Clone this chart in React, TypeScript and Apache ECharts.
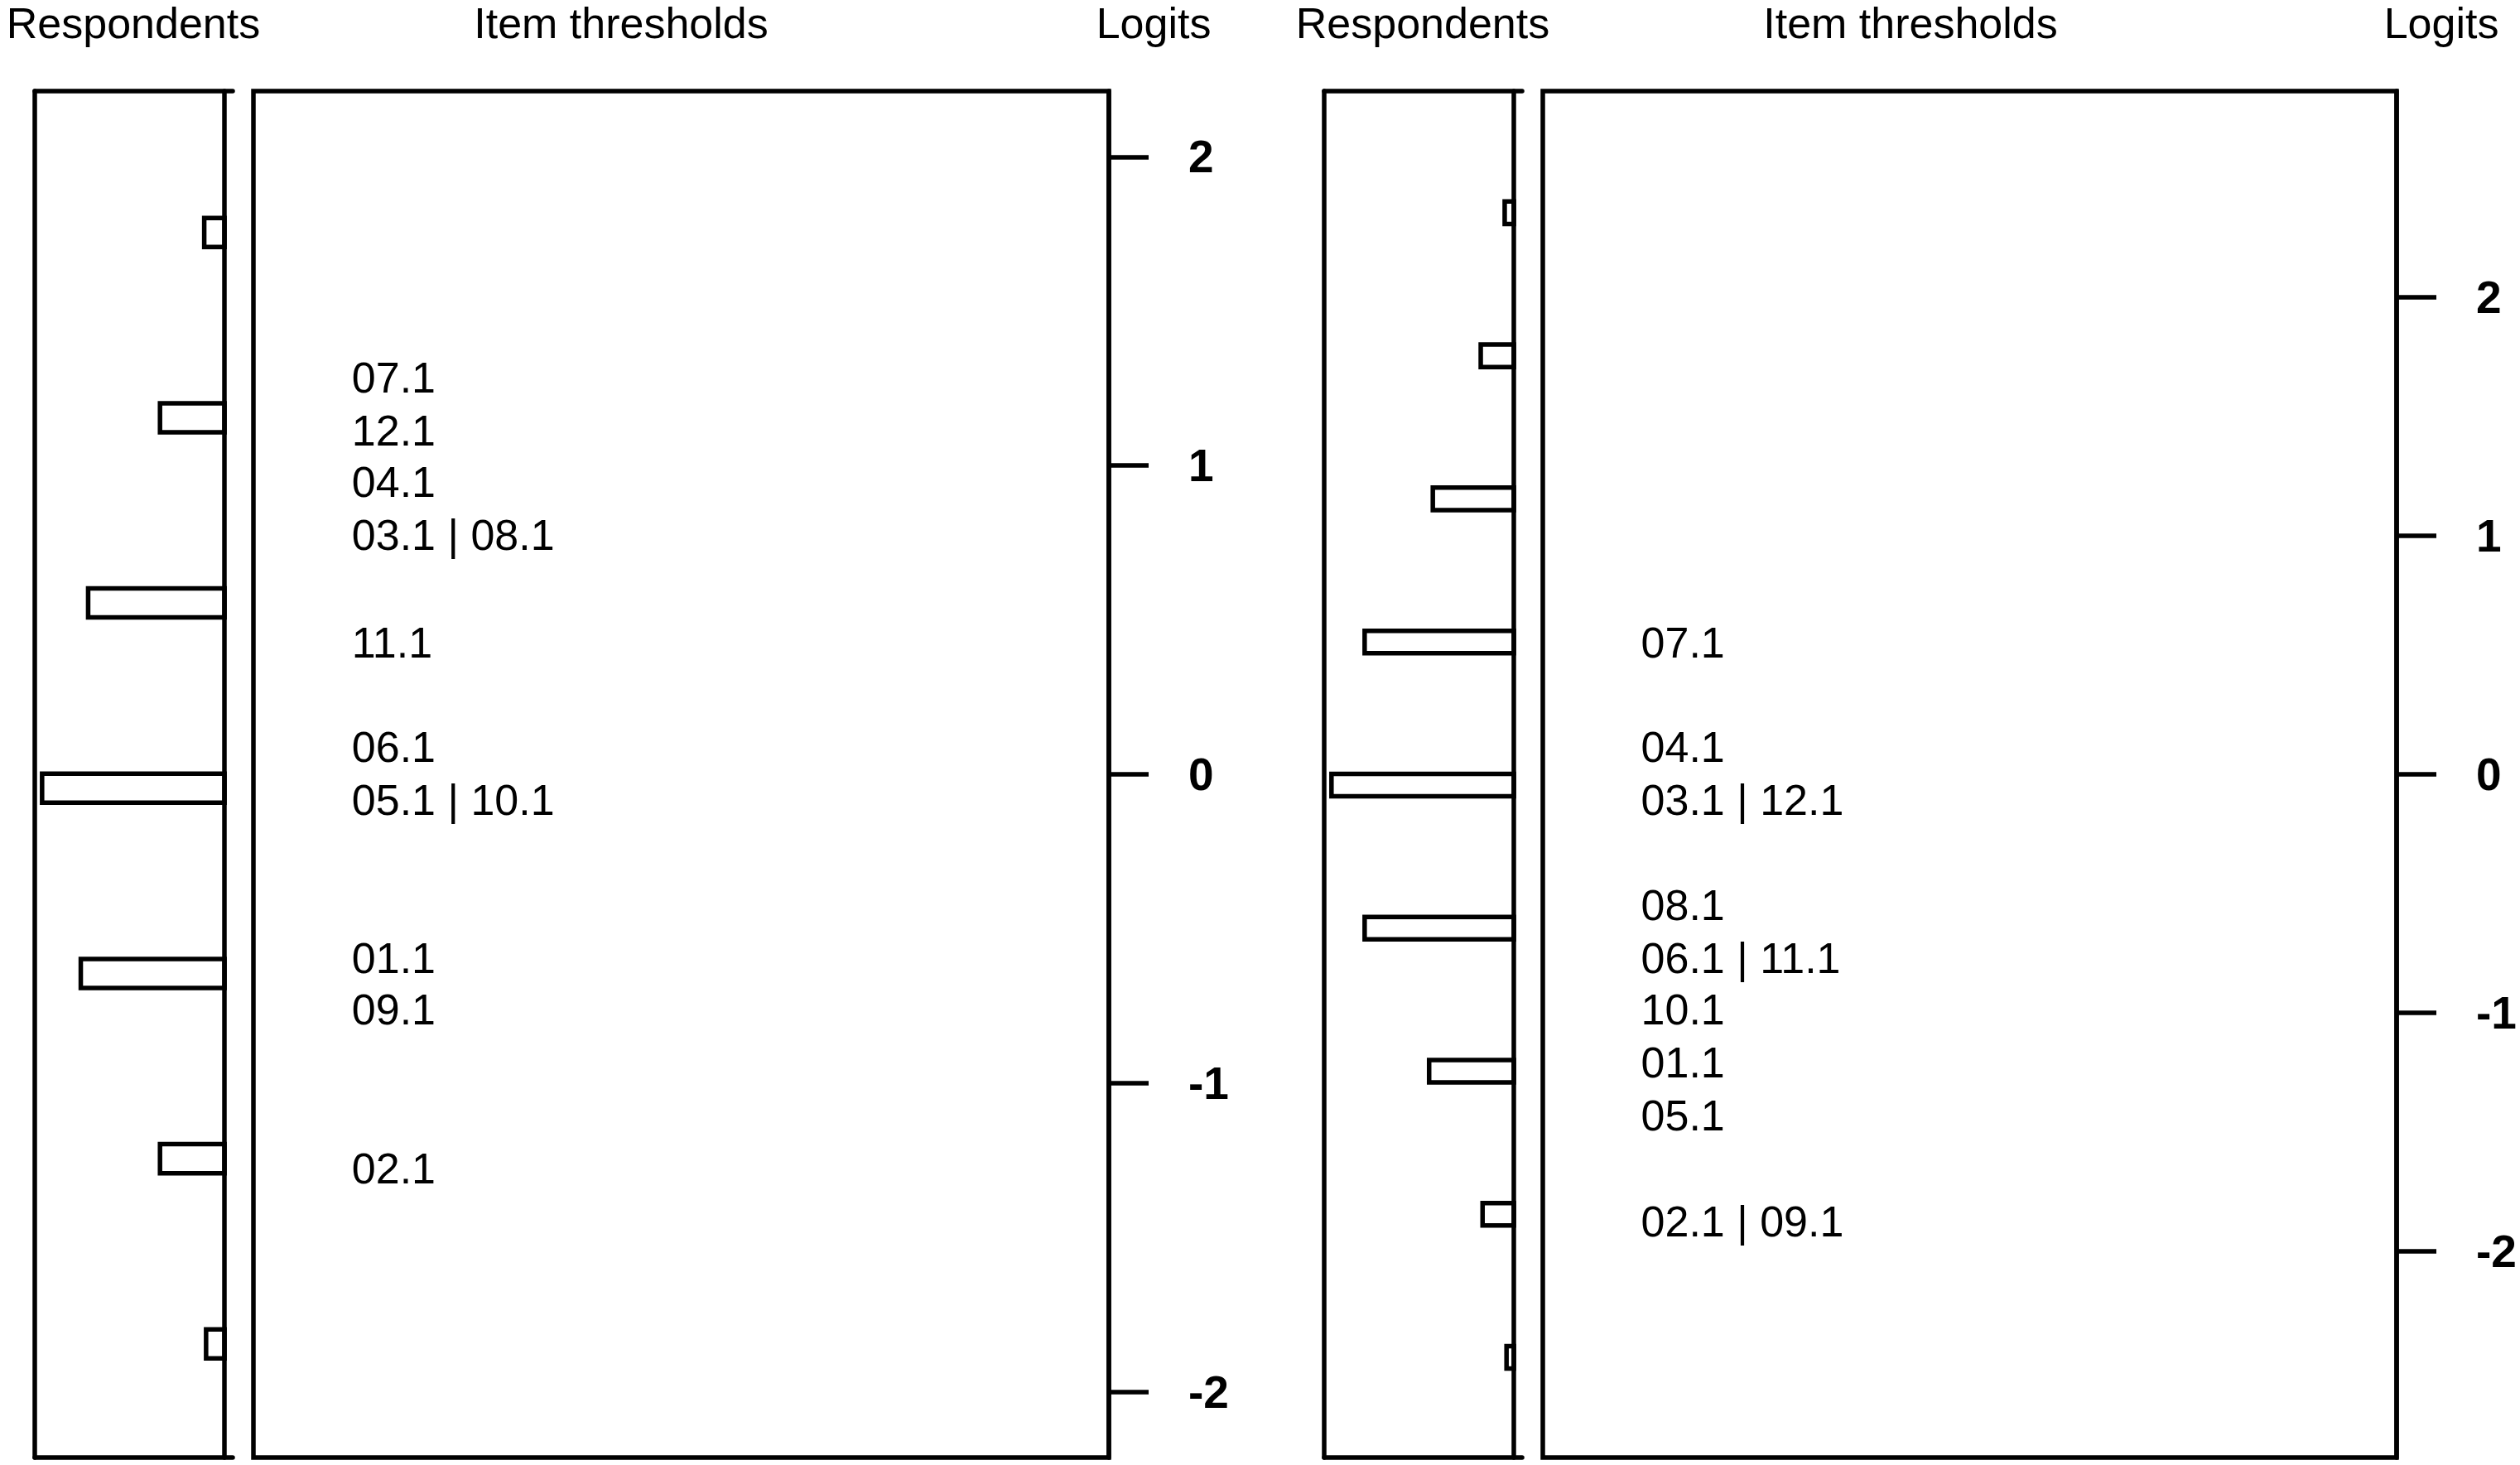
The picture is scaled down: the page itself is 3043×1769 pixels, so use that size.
import React, { useEffect, useRef } from 'react';
import * as echarts from 'echarts';

// ---------- data ----------
// Left map
const LEFT_BIN_LOGITS = [1.755, 1.155, 0.555, -0.045, -0.645, -1.245, -1.845];
const LEFT_COUNTS = [11, 35, 74, 99, 78, 35, 10];
const LEFT_ITEM_LABELS = ['07.1', '12.1', '04.1', '03.1 | 08.1', '11.1', '06.1', '05.1 | 10.1', '01.1', '09.1', '02.1'];
const LEFT_ITEM_LOGITS = [1.285, 1.113, 0.947, 0.775, 0.427, 0.089, -0.083, -0.596, -0.762, -1.277];
const LEFT_RANGE = [-2.213, 2.213];

// Right map
const RIGHT_BIN_LOGITS = [2.355, 1.755, 1.155, 0.555, -0.045, -0.645, -1.245, -1.845, -2.445];
const RIGHT_COUNTS = [5, 18, 44, 81, 99, 81, 46, 17, 4];
const RIGHT_ITEM_LABELS = ['07.1', '04.1', '03.1 | 12.1', '08.1', '06.1 | 11.1', '10.1', '01.1', '05.1', '02.1 | 09.1'];
const RIGHT_ITEM_LOGITS = [0.552, 0.115, -0.108, -0.549, -0.771, -0.986, -1.208, -1.431, -1.875];
const RIGHT_RANGE = [-2.865, 2.865];

const LOGIT_TICKS = [-2, -1, 0, 1, 2];
const TITLES = ['Respondents', 'Item thresholds', 'Logits'];

// ---------- styling ----------
const FONT = 'Liberation Sans, Arial, Helvetica, sans-serif';
const LW = 5.5;
const BAR_THICK = 0.094; // logits
const LABEL_COLUMN = 0.115; // fraction of item box width
const TOP = 110;
const HEIGHT = 1650;

const line = { color: '#000', width: LW };

function buildPanel(
  p: number,
  respLeft: number,
  itemLeft: number,
  itemWidth: number,
  range: number[],
  bins: number[],
  counts: number[],
  labels: string[],
  logits: number[]
) {
  const maxC = Math.max(...counts);
  const xMin = -0.045 * maxC;
  const xMax = 1.04 * maxC;
  const grids = [
    { left: respLeft, top: TOP, width: 239, height: HEIGHT, show: false, outerBoundsMode: 'none', containLabel: false },
    {
      left: itemLeft, top: TOP, width: itemWidth, height: HEIGHT, show: true,
      borderColor: '#000', borderWidth: LW, backgroundColor: 'transparent',
      outerBoundsMode: 'none', containLabel: false,
    },
  ];
  const g0 = p * 2;
  const g1 = p * 2 + 1;
  const respX = (pos: string) => ({
    gridIndex: g0, type: 'value', inverse: true, min: xMin, max: xMax, position: pos,
    axisLine: { show: true, onZero: false, lineStyle: line },
    axisTick: { show: false }, axisLabel: { show: false }, splitLine: { show: false },
  });
  const xAxes = [
    respX('bottom'),
    respX('top'),
    { gridIndex: g1, type: 'value', min: 0, max: 1, show: false, axisLine: { onZero: false }, splitLine: { show: false } },
  ];
  const yAxes = [
    {
      gridIndex: g0, type: 'value', min: range[0], max: range[1], position: 'left',
      axisLine: { show: true, onZero: false, lineStyle: line },
      axisTick: { show: false }, axisLabel: { show: false }, splitLine: { show: false },
    },
    {
      gridIndex: g0, type: 'value', min: range[0], max: range[1], position: 'right',
      axisLine: { show: true, onZero: true, lineStyle: line },
      axisTick: { show: false }, axisLabel: { show: false }, splitLine: { show: false },
    },
    {
      gridIndex: g1, type: 'value', min: range[0], max: range[1], position: 'right',
      axisLine: { show: true, onZero: false, lineStyle: line },
      axisTick: { show: true, inside: false, length: 48, customValues: LOGIT_TICKS, lineStyle: line },
      axisLabel: {
        show: true, customValues: LOGIT_TICKS, margin: 96, color: '#000',
        fontFamily: FONT, fontSize: 55, fontWeight: 'bold', align: 'left', verticalAlign: 'middle',
      },
      splitLine: { show: false },
    },
  ];
  const xi = p * 3;
  const yi = p * 3;
  const series = [
    {
      type: 'custom',
      xAxisIndex: xi,
      yAxisIndex: yi,
      clip: false,
      data: bins.map((b, i) => [counts[i], b]),
      renderItem: (params: any, api: any) => {
        const c = api.value(0);
        const y = api.value(1);
        const p0 = api.coord([0, y]);
        const p1 = api.coord([c, y]);
        const h = api.size([0, BAR_THICK])[1];
        return {
          type: 'rect',
          shape: { x: Math.min(p0[0], p1[0]), y: p0[1] - h / 2, width: Math.abs(p0[0] - p1[0]), height: h },
          style: { fill: 'none', stroke: '#000', lineWidth: LW },
        };
      },
    },
    {
      type: 'custom',
      xAxisIndex: xi + 2,
      yAxisIndex: yi + 2,
      clip: false,
      data: labels.map((l, i) => ({ name: l, value: [LABEL_COLUMN, logits[i]] })),
      renderItem: (params: any, api: any) => {
        const pt = api.coord([api.value(0), api.value(1)]);
        return {
          type: 'text',
          x: pt[0],
          y: pt[1],
          style: {
            text: labels[params.dataIndex],
            fill: '#000',
            fontFamily: FONT,
            fontSize: 52,
            align: 'left',
            verticalAlign: 'middle',
          },
        };
      },
    },
  ];
  return { grids, xAxes, yAxes, series };
}

function titleText(text: string, x: number) {
  return {
    type: 'text',
    x,
    y: 28,
    style: { text, fill: '#000', fontFamily: FONT, fontSize: 52, align: 'center', verticalAlign: 'middle' },
  };
}

export default function App() {
  const ref = useRef<HTMLDivElement>(null);
  useEffect(() => {
    if (!ref.current) return;
    const chart = echarts.init(ref.current, undefined, { renderer: 'svg' });
    const a = buildPanel(0, 42, 306, 1033, LEFT_RANGE, LEFT_BIN_LOGITS, LEFT_COUNTS, LEFT_ITEM_LABELS, LEFT_ITEM_LOGITS);
    const b = buildPanel(1, 1599, 1863, 1031, RIGHT_RANGE, RIGHT_BIN_LOGITS, RIGHT_COUNTS, RIGHT_ITEM_LABELS, RIGHT_ITEM_LOGITS);
    const option: any = {
      animation: false,
      backgroundColor: '#fff',
      grid: [...a.grids, ...b.grids],
      xAxis: [...a.xAxes, ...b.xAxes],
      yAxis: [...a.yAxes, ...b.yAxes],
      series: [...a.series, ...b.series],
      graphic: {
        elements: [
          titleText(TITLES[0], 161),
          titleText(TITLES[1], 750),
          titleText(TITLES[2], 1393),
          titleText(TITLES[0], 1718),
          titleText(TITLES[1], 2307),
          titleText(TITLES[2], 2948),
        ],
      },
    };
    chart.setOption(option);
    return () => chart.dispose();
  }, []);
  return (
    <div
      ref={ref}
      style={{ position: 'absolute', left: 0, top: 0, width: 3043, height: 1769, background: '#fff' }}
    />
  );
}
